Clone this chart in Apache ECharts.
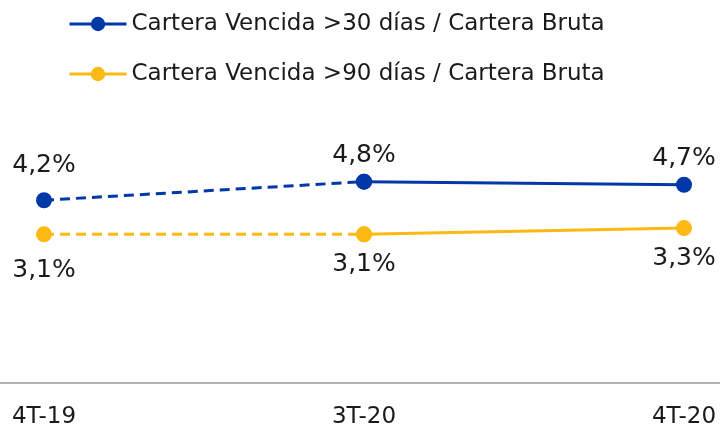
<!DOCTYPE html>
<html>
<head>
<meta charset="utf-8">
<script src="https://cdn.jsdelivr.net/npm/echarts@6/dist/echarts.min.js"></script>
<style>
  html, body { margin: 0; padding: 0; background: #fff; }
  #chart { width: 720px; height: 429px; }
</style>
</head>
<body>
<div id="chart"></div>
<script>
// periodos y valores (%)
var periods = ["4T-19", "3T-20", "4T-20"];
var vencida30 = [4.2, 4.8, 4.7];
var vencida90 = [3.1, 3.1, 3.3];
var name30 = "Cartera Vencida >30 días / Cartera Bruta";
var name90 = "Cartera Vencida >90 días / Cartera Bruta";

var blue = "#0038a8";
var yellow = "#fdb913";
var txt = "#1a1a1a";
var font = "DejaVu Sans";

// tramo punteado: primer periodo -> segundo; tramo continuo: segundo -> tercero
function dashedPart(arr) {
  return arr.slice(0, 2).map(function (v, i) { return [i, v]; });
}
function solidPart(arr) {
  return arr.slice(1).map(function (v, i) { return [i + 1, v]; });
}
function fmt(p) {
  return p.value[1].toFixed(1).replace(".", ",") + "%";
}

function lineSeries(name, color, data, dashed, pos, dist, labelIdx) {
  return {
    name: name,
    type: "line",
    data: data,
    symbol: "circle",
    symbolSize: 16,
    itemStyle: { color: color },
    lineStyle: { color: color, width: 3, type: dashed ? [10, 6] : "solid" },
    label: {
      show: true,
      position: pos,
      distance: dist,
      fontFamily: font,
      fontSize: 25,
      color: txt,
      formatter: function (p) {
        return labelIdx.indexOf(p.dataIndex) >= 0 ? fmt(p) : "";
      }
    },
    emphasis: { disabled: true },
    animation: false
  };
}

var chart = echarts.init(document.getElementById("chart"));
chart.setOption({
  backgroundColor: "#fff",
  legend: {
    orient: "vertical",
    left: 63,
    top: 5,
    itemWidth: 57,
    itemHeight: 18,
    itemGap: 22,
    data: [name30, name90],
    lineStyle: { type: "solid", width: 3 },
    textStyle: { fontFamily: font, fontSize: 23, color: txt, lineHeight: 28 }
  },
  grid: { left: 0, right: 0, top: 98, bottom: 46 },
  xAxis: {
    type: "value",
    min: -0.1375,
    max: 2.1125,
    splitLine: { show: false },
    axisLine: { show: true, onZero: false, lineStyle: { color: "#b3b3b3", width: 2 } },
    axisTick: { show: false },
    axisLabel: {
      customValues: [0, 1, 2],
      margin: 23,
      fontFamily: font,
      fontSize: 23,
      color: txt,
      formatter: function (v) { return periods[Math.round(v)]; }
    }
  },
  yAxis: {
    type: "value",
    min: -1.7,
    max: 7.5,
    show: false
  },
  series: [
    lineSeries(name30, blue, dashedPart(vencida30), true, "top", 14, [0]),
    lineSeries(name30, blue, solidPart(vencida30), false, "top", 6, [0, 1]),
    lineSeries(name90, yellow, dashedPart(vencida90), true, "bottom", 16, [0]),
    lineSeries(name90, yellow, solidPart(vencida90), false, "bottom", 10, [0, 1])
  ]
});
</script>
</body>
</html>
